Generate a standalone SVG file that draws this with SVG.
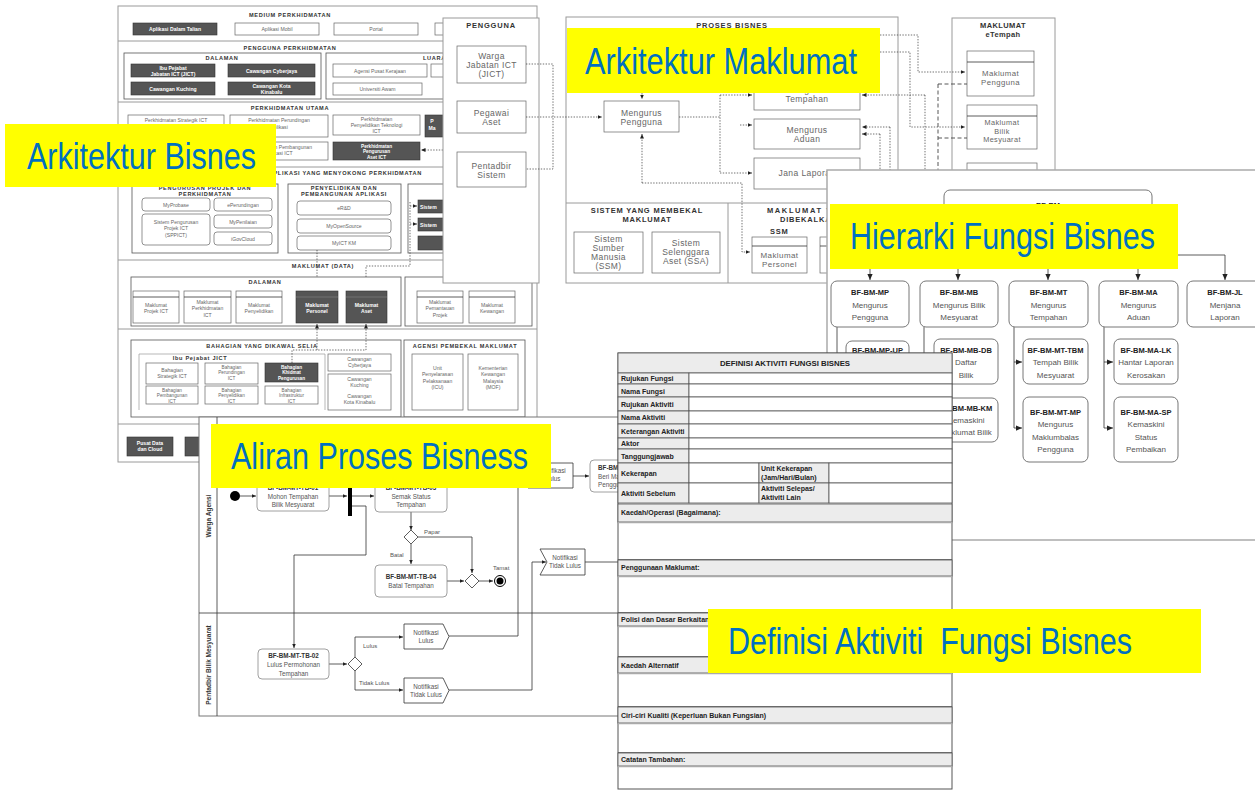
<svg xmlns="http://www.w3.org/2000/svg" width="1255" height="792" viewBox="0 0 1255 792">
<defs>
<marker id="a" viewBox="0 0 8 8" refX="8" refY="4" markerWidth="4.5" markerHeight="4.5" markerUnits="userSpaceOnUse" orient="auto"><path d="M0,0.5L8,4L0,7.5z" fill="#222"/></marker>
<marker id="b" viewBox="0 0 8 8" refX="8" refY="4" markerWidth="6" markerHeight="6" markerUnits="userSpaceOnUse" orient="auto"><path d="M0,0.5L8,4L0,7.5z" fill="#222"/></marker>
</defs>
<style>
text{font-family:"Liberation Sans",Arial,sans-serif}
.pn{fill:#fff;stroke:#9a9a9a;stroke-width:1}
.sep{stroke:#9a9a9a;stroke-width:1;fill:none}
.bx{fill:#fff;stroke:#666;stroke-width:.7}
.bx2{fill:#fff;stroke:#555;stroke-width:.8}
.dk{fill:#555;stroke:#333;stroke-width:.6}
.s{font-size:5.1px;fill:#666;text-anchor:middle}
.sw{font-size:5.1px;fill:#fff;font-weight:bold;text-anchor:middle}
.t{font-size:4.7px}
.sh{font-size:5.6px;fill:#333;font-weight:bold;text-anchor:middle;letter-spacing:.7px}
.dot{fill:none;stroke:#333;stroke-width:.7;stroke-dasharray:1.4 1.4}
.dash{fill:none;stroke:#444;stroke-width:.9;stroke-dasharray:4 2.5}
.ln{fill:none;stroke:#333;stroke-width:.8}
.m{font-size:8.5px;fill:#666;text-anchor:middle;letter-spacing:.4px}
.mh{font-size:7.5px;fill:#333;font-weight:bold;text-anchor:middle;letter-spacing:.8px}
.hb{fill:#fff;stroke:#777;stroke-width:1}
.hid{font-size:7.5px;fill:#222;font-weight:bold;text-anchor:middle}
.ht{font-size:8px;fill:#555;text-anchor:middle}
.ab{fill:#fff;stroke:#888;stroke-width:.8}
.aid{font-size:6.3px;fill:#333;font-weight:bold;text-anchor:middle}
.at{font-size:6.3px;fill:#555;text-anchor:middle}
.al{font-size:6px;fill:#555}
.dg{fill:#ececec;stroke:#555;stroke-width:.8}
.dw{fill:#fff;stroke:#555;stroke-width:.8}
.dt{font-size:7px;fill:#222;font-weight:bold}
.ylw{fill:#ffff00}
.big{font-size:36px;fill:#0070c0}
</style>

<!-- ============ ARKITEKTUR BISNES ============ -->
<g id="arkitektur-bisnes">
<rect class="pn" x="118" y="6" width="419" height="456"/>
<path class="sep" d="M118,41H537M118,102H537M118,167H537M118,260H537M118,329H537M118,424H537"/>
<text class="sh" x="290" y="17">MEDIUM PERKHIDMATAN</text>
<rect class="dk" x="133" y="23" width="84" height="12"/><text class="sw" x="175" y="31">Aplikasi Dalam Talian</text>
<rect class="bx" x="235" y="23" width="84" height="12"/><text class="s" x="277" y="31">Aplikasi Mobil</text>
<rect class="bx" x="334" y="23" width="84" height="12"/><text class="s" x="376" y="31">Portal</text>
<rect class="bx" x="435" y="23" width="84" height="12"/>

<text class="sh" x="290" y="50">PENGGUNA PERKHIDMATAN</text>
<rect class="bx2" x="124" y="53" width="197" height="46"/>
<text class="sh" x="222" y="60">DALAMAN</text>
<rect class="dk" x="131" y="64" width="84" height="13"/><text class="sw" x="173" y="69.5">Ibu Pejabat</text><text class="sw" x="173" y="75.5">Jabatan ICT (JICT)</text>
<rect class="dk" x="228" y="64" width="87" height="13"/><text class="sw" x="271.5" y="72.5">Cawangan Cyberjaya</text>
<rect class="dk" x="131" y="82" width="84" height="13"/><text class="sw" x="173" y="90.5">Cawangan Kuching</text>
<rect class="dk" x="228" y="82" width="87" height="13"/><text class="sw" x="271.5" y="87.5">Cawangan Kota</text><text class="sw" x="271.5" y="93.5">Kinabalu</text>
<rect class="bx2" x="326" y="53" width="140" height="46"/>
<text class="sh" x="423" y="60" style="text-anchor:start">LUARAN</text>
<rect class="bx" x="333" y="64" width="94" height="13"/><text class="s" x="380" y="72.5">Agensi Pusat Kerajaan</text>
<rect class="bx" x="431" y="64" width="40" height="13"/>
<rect class="bx" x="333" y="83" width="89" height="12"/><text class="s" x="377.5" y="91">Universiti Awam</text>

<text class="sh" x="290" y="110">PERKHIDMATAN UTAMA</text>
<rect class="bx" x="128" y="115" width="96" height="22"/><text class="s" x="176" y="122">Perkhidmatan Strategik ICT</text>
<rect class="bx" x="230" y="115" width="98" height="22"/><text class="s" x="279" y="122">Perkhidmatan Perundingan</text><text class="s" x="279" y="128.5">Aplikasi</text>
<rect class="bx" x="333" y="115" width="87" height="20"/><text class="s" x="376.5" y="121">Perkhidmatan</text><text class="s" x="376.5" y="127">Penyelidikan Teknologi</text><text class="s" x="376.5" y="133">ICT</text>
<rect class="dk" x="425" y="115" width="25" height="22"/><text class="sw" x="432" y="123">P</text><text class="sw" x="432" y="129.5">Ma</text>
<rect class="bx" x="128" y="142" width="96" height="18"/>
<rect class="bx" x="230" y="142" width="98" height="18"/><text class="s" x="279" y="148.5">Perkhidmatan Pembangunan</text><text class="s" x="279" y="155">Aplikasi ICT</text>
<rect class="dk" x="333" y="142" width="87" height="18"/><text class="sw t" x="376.5" y="147.8">Perkhidmatan</text><text class="sw t" x="376.5" y="153.3">Pengurusan</text><text class="sw t" x="376.5" y="158.8">Aset ICT</text>
<path class="dot" d="M443,150H421" marker-end="url(#a)"/>

<text class="sh" x="422" y="175" style="text-anchor:end">APLIKASI YANG MENYOKONG PERKHIDMATAN</text>
<rect class="bx2" x="132" y="184" width="146" height="69"/>
<text class="sh" x="205" y="189.5">PENGURUSAN PROJEK DAN</text><text class="sh" x="205" y="196">PERKHIDMATAN</text>
<rect class="bx" x="142" y="198" width="68" height="13" rx="3"/><text class="s" x="176" y="206.5">MyProbase</text>
<rect class="bx" x="214" y="198" width="58" height="13" rx="3"/><text class="s" x="243" y="206.5">ePerundingan</text>
<rect class="bx" x="142" y="214" width="68" height="31" rx="3"/><text class="s" x="176" y="224">Sistem Pengurusan</text><text class="s" x="176" y="230.3">Projek ICT</text><text class="s" x="176" y="236.6">(SPPICT)</text>
<rect class="bx" x="214" y="215" width="58" height="13" rx="3"/><text class="s" x="243" y="223.5">MyPenilaian</text>
<rect class="bx" x="214" y="232" width="58" height="13" rx="3"/><text class="s" x="243" y="240.5">iGovCloud</text>
<rect class="bx2" x="288" y="184" width="113" height="69"/>
<text class="sh" x="344" y="189.5">PENYELIDIKAN DAN</text><text class="sh" x="344" y="196">PEMBANGUNAN APLIKASI</text>
<rect class="bx" x="297" y="201" width="94" height="14" rx="3"/><text class="s" x="344" y="210">eR&amp;D</text>
<rect class="bx" x="297" y="219" width="94" height="14" rx="3"/><text class="s" x="344" y="228">MyOpenSource</text>
<rect class="bx" x="297" y="236" width="94" height="14" rx="3"/><text class="s" x="344" y="245">MyICT KM</text>
<rect class="bx2" x="408" y="184" width="60" height="69"/>
<rect class="dk" x="418" y="200" width="30" height="13"/><text class="sw" x="420" y="208.5" style="text-anchor:start">Sistem</text>
<rect class="dk" x="418" y="218" width="30" height="13"/><text class="sw" x="420" y="226.5" style="text-anchor:start">Sistem</text>
<rect class="dk" x="418" y="236" width="30" height="14"/>
<path class="dot" d="M410,206H417" marker-end="url(#a)"/>
<path class="dot" d="M410,224H417" marker-end="url(#a)"/>
<path class="dot" d="M410,202V266H366V290" marker-end="url(#a)"/>
<path class="dot" d="M317,250V290" marker-end="url(#a)"/>

<text class="sh" x="323" y="268">MAKLUMAT (DATA)</text>
<rect class="bx2" x="131" y="277" width="270" height="49"/>
<text class="sh" x="265" y="284">DALAMAN</text>
<rect class="bx" x="133" y="291" width="46" height="32"/><path class="ln" d="M133,297H179" stroke-width=".6"/><text class="s" x="156" y="307">Maklumat</text><text class="s" x="156" y="313.3">Projek ICT</text>
<rect class="bx" x="184" y="291" width="47" height="32"/><path class="ln" d="M184,297H231" stroke-width=".6"/><text class="s" x="207.5" y="304">Maklumat</text><text class="s" x="207.5" y="310.3">Perkhidmatan</text><text class="s" x="207.5" y="316.6">ICT</text>
<rect class="bx" x="236" y="291" width="46" height="32"/><path class="ln" d="M236,297H282" stroke-width=".6"/><text class="s" x="259" y="307">Maklumat</text><text class="s" x="259" y="313.3">Penyelidikan</text>
<rect class="dk" x="296" y="291" width="42" height="32"/><path d="M296,297H338" stroke="#888" stroke-width=".6"/><text class="sw" x="317" y="307">Maklumat</text><text class="sw" x="317" y="313.3">Personel</text>
<rect class="dk" x="346" y="291" width="41" height="32"/><path d="M346,297H387" stroke="#888" stroke-width=".6"/><text class="sw" x="366.5" y="307">Maklumat</text><text class="sw" x="366.5" y="313.3">Aset</text>
<rect class="bx2" x="405" y="277" width="127" height="49"/>
<rect class="bx" x="417" y="291" width="46" height="32"/><path class="ln" d="M417,297H463" stroke-width=".6"/><text class="s" x="440" y="304">Maklumat</text><text class="s" x="440" y="310.3">Pemantauan</text><text class="s" x="440" y="316.6">Projek</text>
<rect class="bx" x="469" y="291" width="46" height="32"/><path class="ln" d="M469,297H515" stroke-width=".6"/><text class="s" x="492" y="307">Maklumat</text><text class="s" x="492" y="313.3">Kewangan</text>

<rect class="bx2" x="131" y="340" width="270" height="77"/>
<text class="sh" x="262" y="348">BAHAGIAN YANG DIKAWAL SELIA</text>
<path d="M139,410V354H325V410" fill="none" stroke="#999" stroke-width=".7"/>
<text class="sh" x="200" y="360">Ibu Pejabat JICT</text>
<rect class="bx" x="146" y="363" width="52" height="21"/><text class="s" x="172" y="372">Bahagian</text><text class="s" x="172" y="378.3">Strategik ICT</text>
<rect class="bx" x="205" y="363" width="53" height="21"/><text class="s t" x="231.5" y="368.8">Bahagian</text><text class="s t" x="231.5" y="374.3">Perundingan</text><text class="s t" x="231.5" y="379.8">ICT</text>
<rect class="dk" x="265" y="363" width="53" height="19"/><text class="sw t" x="291.5" y="368.8">Bahagian</text><text class="sw t" x="291.5" y="374.3">Khidmat</text><text class="sw t" x="291.5" y="379.8">Pengurusan</text>
<rect class="bx" x="146" y="386" width="52" height="18"/><text class="s t" x="172" y="391.5">Bahagian</text><text class="s t" x="172" y="397">Pembangunan</text><text class="s t" x="172" y="402.5">ICT</text>
<rect class="bx" x="205" y="386" width="53" height="18"/><text class="s t" x="231.5" y="391.5">Bahagian</text><text class="s t" x="231.5" y="397">Penyelidikan</text><text class="s t" x="231.5" y="402.5">ICT</text>
<rect class="bx" x="265" y="386" width="53" height="18"/><text class="s t" x="291.5" y="391.5">Bahagian</text><text class="s t" x="291.5" y="397">Infrastruktur</text><text class="s t" x="291.5" y="402.5">ICT</text>
<rect class="bx" x="328" y="354" width="63" height="17"/><text class="s" x="359.5" y="361">Cawangan</text><text class="s" x="359.5" y="367.3">Cyberjaya</text>
<rect class="bx" x="328" y="374" width="63" height="36"/><text class="s" x="359.5" y="381">Cawangan</text><text class="s" x="359.5" y="387.3">Kuching</text><text class="s" x="359.5" y="398">Cawangan</text><text class="s" x="359.5" y="404.3">Kota Kinabalu</text>
<rect class="bx2" x="404" y="340" width="121" height="77"/>
<text class="sh" x="465" y="348">AGENSI PEMBEKAL MAKLUMAT</text>
<rect class="bx" x="412" y="354" width="51" height="56"/><text class="s" x="437.5" y="370">Unit</text><text class="s" x="437.5" y="376.3">Penyelarasan</text><text class="s" x="437.5" y="382.6">Pelaksanaan</text><text class="s" x="437.5" y="388.9">(ICU)</text>
<rect class="bx" x="468" y="354" width="50" height="56"/><text class="s" x="493" y="370">Kementerian</text><text class="s" x="493" y="376.3">Kewangan</text><text class="s" x="493" y="382.6">Malaysia</text><text class="s" x="493" y="388.9">(MOF)</text>
<path class="dot" d="M292,363V350H366V324" marker-end="url(#a)"/>
<path class="dot" d="M317,350V324" marker-end="url(#a)"/>

<rect class="dk" x="127" y="437" width="46" height="19"/><text class="sw" x="150" y="445">Pusat Data</text><text class="sw" x="150" y="451.3">dan Cloud</text>
<rect class="dk" x="185" y="437" width="46" height="19"/>
</g>

<!-- ============ ARKITEKTUR MAKLUMAT ============ -->
<g id="arkitektur-maklumat">
<g id="pengguna">
<rect class="pn" x="443" y="18" width="96" height="265"/>
<text class="mh" x="491" y="28">PENGGUNA</text>
<rect class="bx" x="457" y="46" width="69" height="37"/><text class="m" x="491.5" y="58.5">Warga</text><text class="m" x="491.5" y="67.5">Jabatan ICT</text><text class="m" x="491.5" y="76.5">(JICT)</text>
<rect class="bx" x="457" y="101" width="69" height="32"/><text class="m" x="491.5" y="116">Pegawai</text><text class="m" x="491.5" y="125">Aset</text>
<rect class="bx" x="457" y="152" width="69" height="35"/><text class="m" x="491.5" y="168.5">Pentadbir</text><text class="m" x="491.5" y="177.5">Sistem</text>
</g>
<g id="proses-bisnes">
<rect class="pn" x="566" y="17" width="332" height="266"/>
<path class="sep" d="M566,203H898M728,203V283"/>
<text class="mh" x="732" y="28">PROSES BISNES</text>
<rect class="bx" x="604" y="101" width="75" height="31"/><text class="m" x="641.5" y="115.5">Mengurus</text><text class="m" x="641.5" y="124.5">Pengguna</text>
<rect class="bx" x="754" y="80" width="106" height="30"/><text class="m" x="807" y="93">Mengurus</text><text class="m" x="807" y="102">Tempahan</text>
<rect class="bx" x="754" y="119" width="106" height="30"/><text class="m" x="807" y="132.5">Mengurus</text><text class="m" x="807" y="141.5">Aduan</text>
<rect class="bx" x="754" y="158" width="106" height="31"/><text class="m" x="807" y="176">Jana Laporan</text>
<text class="mh" x="647" y="213">SISTEM YANG MEMBEKAL</text><text class="mh" x="647" y="221.5">MAKLUMAT</text>
<rect class="bx" x="574" y="232" width="69" height="41" stroke="#444"/><text class="m" x="608.5" y="241.5">Sistem</text><text class="m" x="608.5" y="250.5">Sumber</text><text class="m" x="608.5" y="259.5">Manusia</text><text class="m" x="608.5" y="268.5">(SSM)</text>
<rect class="bx" x="652" y="232" width="68" height="41" stroke="#444"/><text class="m" x="686" y="246">Sistem</text><text class="m" x="686" y="255">Selenggara</text><text class="m" x="686" y="264">Aset (SSA)</text>
<text class="mh" x="767" y="213" style="text-anchor:start;letter-spacing:1.6px">MAKLUMAT YANG</text><text class="mh" x="780" y="221.5" style="text-anchor:start">DIBEKALKAN</text>
<text class="mh" x="770" y="234" style="text-anchor:start">SSM</text>
<rect class="bx" x="752" y="237" width="55" height="36" stroke="#444"/><path class="ln" d="M752,246H807" stroke-width=".6"/><text class="m" x="779.5" y="258" style="font-size:8px">Maklumat</text><text class="m" x="779.5" y="267" style="font-size:8px">Personel</text>
<rect class="bx" x="820" y="237" width="55" height="36" stroke="#444"/><path class="ln" d="M820,246H875" stroke-width=".6"/>
</g>
<g id="maklumat-etempah">
<rect class="pn" x="952" y="18" width="103" height="180"/>
<text class="mh" x="1003" y="28" style="letter-spacing:.4px">MAKLUMAT</text><text class="mh" x="1003" y="37" style="letter-spacing:.4px">eTempah</text>
<rect class="bx" x="967" y="51" width="67" height="45" stroke="#444"/><path class="ln" d="M967,62H1034" stroke-width=".6"/><text class="m" x="1000.5" y="76" style="font-size:7.8px">Maklumat</text><text class="m" x="1000.5" y="85" style="font-size:7.8px">Pengguna</text>
<rect class="bx" x="967" y="105" width="70" height="44" stroke="#444"/><path class="ln" d="M967,116H1037" stroke-width=".6"/><text class="m" x="1002" y="125" style="font-size:7.3px">Maklumat</text><text class="m" x="1002" y="133.5" style="font-size:7.3px">Bilik</text><text class="m" x="1002" y="142" style="font-size:7.3px">Mesyuarat</text>
<rect class="bx" x="967" y="163" width="70" height="40" stroke="#444"/><path class="ln" d="M967,174H1037" stroke-width=".6"/>
</g>
<g id="connectors-maklumat">
<path class="dot" d="M526,64H553V169H526"/>
<path class="dot" d="M526,117H602" marker-end="url(#a)"/>
<path class="dot" d="M642,40V99" marker-end="url(#a)"/>
<path class="dot" d="M679,117H720"/>
<path class="dot" d="M720,95V173"/>
<path class="dot" d="M720,95H752" marker-end="url(#a)"/>
<path class="dot" d="M740,125H752" marker-end="url(#a)"/>
<path class="dot" d="M720,173H752" marker-end="url(#a)"/>
<path class="dot" d="M642,183V134" marker-end="url(#a)"/>
<path class="dot" d="M642,183H742V252H750" marker-end="url(#a)"/>
<path class="dot" d="M880,35H918V72H965" marker-end="url(#a)"/>
<path class="dot" d="M880,52H910V127H965" marker-end="url(#a)"/>
<path class="dash" d="M938,84H967M938,84V200"/>
<path class="dash" d="M938,138H967"/>
<path class="dot" d="M925,95H862" marker-end="url(#a)"/>
<path class="dot" d="M925,95V200"/>
<path class="dot" d="M890,127H862" marker-end="url(#a)"/>
<path class="dot" d="M890,127V200"/>
<path class="dot" d="M880,134H862" marker-end="url(#a)"/>
<path class="dot" d="M880,134V200"/>
</g>
</g>

<!-- ============ HIERARKI FUNGSI BISNES ============ -->
<g id="hierarki-fungsi-bisnes">
<rect x="827" y="170" width="440" height="370" fill="#fff" stroke="#aaa" stroke-width="1.5"/>
<g id="hierarki-connectors">
<path class="ln" d="M1048,240V255M870,255H1225"/>
<path class="ln" d="M870,255V280" marker-end="url(#b)"/>
<path class="ln" d="M958,255V280" marker-end="url(#b)"/>
<path class="ln" d="M1048,255V280" marker-end="url(#b)"/>
<path class="ln" d="M1138,255V280" marker-end="url(#b)"/>
<path class="ln" d="M1225,255V280" marker-end="url(#b)"/>
<path class="ln" d="M837,327V362H845" marker-end="url(#b)"/>
<path class="ln" d="M924,327V428H933" marker-end="url(#b)"/>
<path class="ln" d="M924,362H933" marker-end="url(#b)"/>
<path class="ln" d="M1014,327V428H1022" marker-end="url(#b)"/>
<path class="ln" d="M1014,362H1022" marker-end="url(#b)"/>
<path class="ln" d="M1104,327V428H1113" marker-end="url(#b)"/>
<path class="ln" d="M1104,362H1113" marker-end="url(#b)"/>
</g>
<g id="bf-bm"><rect class="hb" x="944" y="190" width="208" height="50" rx="6"/><text class="hid" x="1048" y="208">BF-BM</text></g>
<g id="bf-bm-mp"><rect class="hb" x="831" y="281" width="78" height="46" rx="6"/><text class="hid" x="870" y="295">BF-BM-MP</text><text class="ht" x="870" y="308">Mengurus</text><text class="ht" x="870" y="320">Pengguna</text></g>
<g id="bf-bm-mb"><rect class="hb" x="920" y="281" width="78" height="46" rx="6"/><text class="hid" x="959" y="295">BF-BM-MB</text><text class="ht" x="959" y="308">Mengurus Bilik</text><text class="ht" x="959" y="320">Mesyuarat</text></g>
<g id="bf-bm-mt"><rect class="hb" x="1009" y="281" width="79" height="46" rx="6"/><text class="hid" x="1048.5" y="295">BF-BM-MT</text><text class="ht" x="1048.5" y="308">Mengurus</text><text class="ht" x="1048.5" y="320">Tempahan</text></g>
<g id="bf-bm-ma"><rect class="hb" x="1099" y="281" width="79" height="46" rx="6"/><text class="hid" x="1138.5" y="295">BF-BM-MA</text><text class="ht" x="1138.5" y="308">Mengurus</text><text class="ht" x="1138.5" y="320">Aduan</text></g>
<g id="bf-bm-jl"><rect class="hb" x="1187" y="281" width="76" height="46" rx="6"/><text class="hid" x="1225" y="295">BF-BM-JL</text><text class="ht" x="1225" y="308">Menjana</text><text class="ht" x="1225" y="320">Laporan</text></g>
<g id="bf-bm-mp-up"><rect class="hb" x="846" y="341" width="63" height="45" rx="6"/><text class="hid" x="877.5" y="353">BF-BM-MP-UP</text></g>
<g id="bf-bm-mb-db"><rect class="hb" x="934" y="339" width="64" height="45" rx="6"/><text class="hid" x="966" y="353">BF-BM-MB-DB</text><text class="ht" x="966" y="365">Daftar</text><text class="ht" x="966" y="378">Bilik</text></g>
<g id="bf-bm-mb-km"><rect class="hb" x="934" y="398" width="64" height="44" rx="6"/><text class="hid" x="966" y="411">BF-BM-MB-KM</text><text class="ht" x="966" y="423">Kemaskini</text><text class="ht" x="966" y="435">Maklumat Bilik</text></g>
<g id="bf-bm-mt-tbm"><rect class="hb" x="1023" y="339" width="65" height="45" rx="6"/><text class="hid" x="1055.5" y="353">BF-BM-MT-TBM</text><text class="ht" x="1055.5" y="365">Tempah Bilik</text><text class="ht" x="1055.5" y="378">Mesyuarat</text></g>
<g id="bf-bm-mt-mp"><rect class="hb" x="1023" y="397" width="65" height="65" rx="6"/><text class="hid" x="1055.5" y="415">BF-BM-MT-MP</text><text class="ht" x="1055.5" y="427">Mengurus</text><text class="ht" x="1055.5" y="440">Maklumbalas</text><text class="ht" x="1055.5" y="452">Pengguna</text></g>
<g id="bf-bm-ma-lk"><rect class="hb" x="1114" y="339" width="64" height="45" rx="6"/><text class="hid" x="1146" y="353">BF-BM-MA-LK</text><text class="ht" x="1146" y="365">Hantar Laporan</text><text class="ht" x="1146" y="378">Kerosakan</text></g>
<g id="bf-bm-ma-sp"><rect class="hb" x="1114" y="397" width="64" height="65" rx="6"/><text class="hid" x="1146" y="415">BF-BM-MA-SP</text><text class="ht" x="1146" y="427">Kemaskini</text><text class="ht" x="1146" y="440">Status</text><text class="ht" x="1146" y="452">Pembaikan</text></g>
</g>

<!-- ============ ALIRAN PROSES ============ -->
<g id="aliran-proses">
<rect x="199" y="417" width="426" height="299" fill="#fff" stroke="#777" stroke-width="1"/>
<path class="ln" d="M217,417V716M199,613H625" stroke="#777"/>
<text font-size="6.5" font-weight="bold" fill="#333" text-anchor="middle" transform="translate(211,516) rotate(-90)">Warga Agensi</text>
<text font-size="6.5" font-weight="bold" fill="#333" text-anchor="middle" transform="translate(211,665) rotate(-90)">Pentadbir Bilik Mesyuarat</text>
<g id="aliran-connectors">
<path class="ln" d="M240,496H256" marker-end="url(#a)"/>
<path class="ln" d="M329,496H347" marker-end="url(#a)"/>
<path class="ln" d="M352,496H374" marker-end="url(#a)"/>
<path class="ln" d="M352,506H366V555H294V648" marker-end="url(#a)"/>
<path class="ln" d="M411,512V530" marker-end="url(#a)"/>
<path class="ln" d="M418,537H472V573" marker-end="url(#a)"/>
<path class="ln" d="M411,544V564" marker-end="url(#a)"/>
<path class="ln" d="M447,581H464" marker-end="url(#a)"/>
<path class="ln" d="M479,581H493" marker-end="url(#a)"/>
<path class="ln" d="M329,664H347" marker-end="url(#a)"/>
<path class="ln" d="M355,657V637H403" marker-end="url(#a)"/>
<path class="ln" d="M355,671V690H403" marker-end="url(#a)"/>
<path class="ln" d="M449,636H518V476H530" marker-end="url(#a)"/>
<path class="ln" d="M449,690H532V562H546" marker-end="url(#a)"/>
<path class="ln" d="M585,562H625"/>
<path class="ln" d="M573,476H589" marker-end="url(#a)"/>
</g>
<circle cx="235" cy="496" r="5" fill="#000"/>
<rect x="348" y="475" width="4" height="41" fill="#000"/>
<g id="tb-01"><rect class="ab" x="257" y="480" width="72" height="31" rx="4"/><text class="aid" x="293" y="490">BF-BM-MT-TB-01</text><text class="at" x="293" y="498.5">Mohon Tempahan</text><text class="at" x="293" y="506.5">Bilik Mesyuarat</text></g>
<g id="tb-03"><rect class="ab" x="375" y="480" width="72" height="32" rx="4"/><text class="aid" x="411" y="490">BF-BM-MT-TB-03</text><text class="at" x="411" y="498.5">Semak Status</text><text class="at" x="411" y="506.5">Tempahan</text></g>
<polygon points="411,530 418,537 411,544 404,537" fill="#fff" stroke="#333" stroke-width=".8"/>
<text class="al" x="424" y="534">Papar</text>
<text class="al" x="390" y="557">Batal</text>
<g id="tb-04"><rect class="ab" x="375" y="565" width="72" height="32" rx="4"/><text class="aid" x="411" y="579">BF-BM-MT-TB-04</text><text class="at" x="411" y="588">Batal Tempahan</text></g>
<polygon points="472,574 479,581 472,588 465,581" fill="#fff" stroke="#333" stroke-width=".8"/>
<text class="al" x="493" y="570">Tamat</text>
<circle cx="500" cy="581" r="5.5" fill="#fff" stroke="#000" stroke-width="1"/><circle cx="500" cy="581" r="3.5" fill="#000"/>
<g id="notif-lulus-1"><polygon points="528,463 573,463 573,488 528,488 534,475.5" fill="#fff" stroke="#333" stroke-width=".8"/><text class="at" x="553" y="473">Notifikasi</text><text class="at" x="553" y="481">Lulus</text></g>
<g id="tb-05"><rect class="ab" x="590" y="460" width="40" height="32" rx="4"/><text class="aid" x="598" y="470" style="text-anchor:start">BF-BM-MT-TB-05</text><text class="at" x="598" y="479" style="text-anchor:start">Beri Maklumbalas</text><text class="at" x="598" y="487" style="text-anchor:start">Pengguna</text></g>
<g id="notif-tidak-lulus-1"><polygon points="540,549 585,549 585,575 540,575 547,562" fill="#fff" stroke="#333" stroke-width=".8"/><text class="at" x="565" y="560">Notifikasi</text><text class="at" x="565" y="568">Tidak Lulus</text></g>
<g id="tb-02"><rect class="ab" x="258" y="649" width="71" height="30" rx="4"/><text class="aid" x="293.5" y="658">BF-BM-MT-TB-02</text><text class="at" x="293.5" y="667">Lulus Permohonan</text><text class="at" x="293.5" y="676">Tempahan</text></g>
<polygon points="355,657 362,664 355,671 348,664" fill="#fff" stroke="#333" stroke-width=".8"/>
<text class="al" x="363" y="648">Lulus</text>
<text class="al" x="359" y="685">Tidak Lulus</text>
<g id="notif-lulus-2"><polygon points="404,624 443,624 449,636.5 443,649 404,649" fill="#fff" stroke="#333" stroke-width=".8"/><text class="at" x="426" y="635">Notifikasi</text><text class="at" x="426" y="643">Lulus</text></g>
<g id="notif-tidak-lulus-2"><polygon points="404,678 443,678 449,690.5 443,703 404,703" fill="#fff" stroke="#333" stroke-width=".8"/><text class="at" x="426" y="689">Notifikasi</text><text class="at" x="426" y="697">Tidak Lulus</text></g>
</g>

<!-- ============ DEFINISI AKTIVITI ============ -->
<g id="definisi-aktiviti">
<rect x="618" y="353" width="334" height="436" fill="#fff" stroke="#555" stroke-width="1"/>
<rect class="dg" x="618" y="353" width="334" height="20"/>
<text x="785" y="366" font-size="7.8" font-weight="bold" fill="#222" text-anchor="middle">DEFINISI AKTIVITI FUNGSI BISNES</text>
<rect class="dg" x="618" y="373" width="71" height="11"/><rect class="dw" x="689" y="373" width="263" height="11"/><text class="dt" x="621" y="381">Rujukan Fungsi</text>
<rect class="dg" x="618" y="384" width="71" height="13"/><rect class="dw" x="689" y="384" width="263" height="13"/><text class="dt" x="621" y="393.5">Nama Fungsi</text>
<rect class="dg" x="618" y="397" width="71" height="14"/><rect class="dw" x="689" y="397" width="263" height="14"/><text class="dt" x="621" y="406.5">Rujukan Aktiviti</text>
<rect class="dg" x="618" y="411" width="71" height="13"/><rect class="dw" x="689" y="411" width="263" height="13"/><text class="dt" x="621" y="419.5">Nama Aktiviti</text>
<rect class="dg" x="618" y="424" width="71" height="14"/><rect class="dw" x="689" y="424" width="263" height="14"/><text class="dt" x="621" y="433.5">Keterangan Aktiviti</text>
<rect class="dg" x="618" y="438" width="71" height="11"/><rect class="dw" x="689" y="438" width="263" height="11"/><text class="dt" x="621" y="446">Aktor</text>
<rect class="dg" x="618" y="449" width="71" height="14"/><rect class="dw" x="689" y="449" width="263" height="14"/><text class="dt" x="621" y="458.5">Tanggungjawab</text>
<rect class="dg" x="618" y="463" width="71" height="20"/><rect class="dw" x="689" y="463" width="70" height="20"/><rect class="dg" x="759" y="463" width="70" height="20"/><rect class="dw" x="829" y="463" width="123" height="20"/>
<text class="dt" x="621" y="475.5">Kekerapan</text><text class="dt" x="761" y="470.5">Unit Kekerapan</text><text class="dt" x="761" y="480">(Jam/Hari/Bulan)</text>
<rect class="dg" x="618" y="483" width="71" height="20"/><rect class="dw" x="689" y="483" width="70" height="20"/><rect class="dg" x="759" y="483" width="70" height="20"/><rect class="dw" x="829" y="483" width="123" height="20"/>
<text class="dt" x="621" y="495.5">Aktiviti Sebelum</text><text class="dt" x="761" y="490.5">Aktiviti Selepas/</text><text class="dt" x="761" y="500">Aktiviti Lain</text>
<rect class="dg" x="618" y="504" width="334" height="18"/><path d="M618,522.5H952" stroke="#aaa" stroke-width="1.5"/><text class="dt" x="621" y="515">Kaedah/Operasi (Bagaimana):</text>
<path d="M618,559.5H952" stroke="#555" stroke-width=".8"/>
<rect class="dg" x="618" y="560" width="334" height="16"/><path d="M618,576.5H952" stroke="#aaa" stroke-width="1.5"/><text class="dt" x="621" y="570">Penggunaan Maklumat:</text>
<path d="M618,612.5H952" stroke="#555" stroke-width=".8"/>
<rect class="dg" x="618" y="613" width="334" height="13"/><path d="M618,626.5H952" stroke="#aaa" stroke-width="1.5"/><text class="dt" x="621" y="622">Polisi dan Dasar Berkaitan:</text>
<path d="M618,656.5H952" stroke="#555" stroke-width=".8"/>
<rect class="dg" x="618" y="657" width="334" height="16"/><path d="M618,673.5H952" stroke="#aaa" stroke-width="1.5"/><text class="dt" x="621" y="667.5">Kaedah Alternatif</text>
<path d="M618,706.5H952" stroke="#555" stroke-width=".8"/>
<rect class="dg" x="618" y="707" width="334" height="16"/><path d="M618,723.5H952" stroke="#aaa" stroke-width="1.5"/><text class="dt" x="621" y="717.5">Ciri-ciri Kualiti (Keperluan Bukan Fungsian)</text>
<path d="M618,752.5H952" stroke="#555" stroke-width=".8"/>
<rect class="dg" x="618" y="753" width="334" height="13"/><path d="M618,766.5H952" stroke="#aaa" stroke-width="1.5"/><text class="dt" x="621" y="762">Catatan Tambahan:</text>
</g>

<!-- ============ YELLOW LABELS ============ -->
<g id="label-arkitektur-bisnes"><rect class="ylw" x="5" y="124" width="271" height="63"/><text class="big" x="27" y="169" textLength="229" lengthAdjust="spacingAndGlyphs">Arkitektur Bisnes</text></g>
<g id="label-arkitektur-maklumat"><rect class="ylw" x="567" y="28" width="313" height="65"/><text class="big" x="585" y="74" textLength="272" lengthAdjust="spacingAndGlyphs">Arkitektur Maklumat</text></g>
<g id="label-hierarki"><rect class="ylw" x="830" y="204" width="348" height="65"/><text class="big" x="850" y="249" textLength="305" lengthAdjust="spacingAndGlyphs">Hierarki Fungsi Bisnes</text></g>
<g id="label-aliran"><rect class="ylw" x="211" y="424" width="340" height="64"/><text class="big" x="231" y="469" textLength="297" lengthAdjust="spacingAndGlyphs">Aliran Proses Bisness</text></g>
<g id="label-definisi"><rect class="ylw" x="708" y="609" width="493" height="64"/><text class="big" x="728" y="654" textLength="404" lengthAdjust="spacingAndGlyphs">Definisi Aktiviti&#160; Fungsi Bisnes</text></g>
</svg>
